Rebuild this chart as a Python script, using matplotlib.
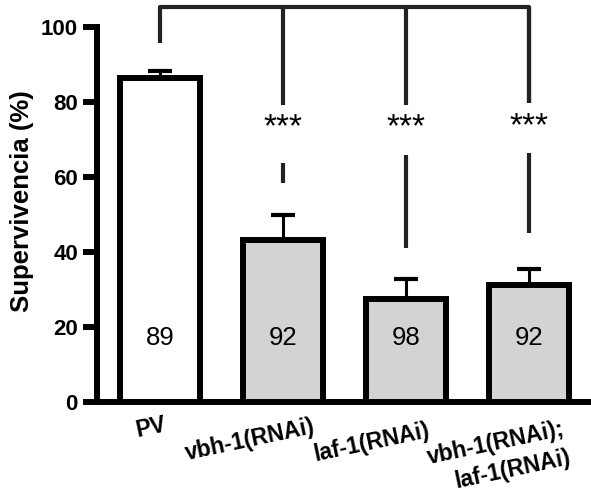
import matplotlib
matplotlib.use('Agg')
import matplotlib.pyplot as plt
import numpy as np

plt.rcParams['font.family'] = ['Liberation Sans', 'DejaVu Sans']

# data
groups = ['PV', 'vbh-1(RNAi)', 'laf-1(RNAi)', 'vbh-1(RNAi);\nlaf-1(RNAi)']
survival = [86.3, 43.2, 27.5, 31.3]
sem = [1.8, 6.6, 5.3, 4.1]
n_worms = ['89', '92', '98', '92']
fills = ['white', '#d3d3d3', '#d3d3d3', '#d3d3d3']

# significance bracket (all vs PV)
bracket_top = 105.2
pv_drop = 95.6
upper_end = [79.1, 79.1, 79.6]
lower_start = [63.6, 65.8, 66.4]
lower_end = [58.3, 41.0, 45.0]
star_y = [73.0, 73.0, 73.2]
stars = ['***', '***', '***']

fig = plt.figure(figsize=(5.91, 4.97), dpi=100)
ax = fig.add_axes([0.1636, 0.1911, 0.8364, 0.8089])

x = np.arange(len(groups))
ax.bar(x, survival, width=0.65, color=fills, edgecolor='black', linewidth=4.3, zorder=3)
ax.errorbar(x, survival, yerr=[np.zeros(len(sem)), sem], fmt='none', ecolor='black',
            elinewidth=2.2, capsize=8.5, capthick=3, zorder=2)

for xi, n in zip(x, n_worms):
    ax.text(xi, 17, n, ha='center', va='center', fontsize=18.5, zorder=4)

# bracket
bc = '#222222'
ax.plot([x[0], x[0], x[-1], x[-1]], [pv_drop, bracket_top, bracket_top, upper_end[-1]],
        color=bc, lw=3, solid_capstyle='butt', clip_on=False)
for i in range(1, len(groups)):
    ax.plot([x[i], x[i]], [bracket_top, upper_end[i - 1]], color=bc, lw=3, solid_capstyle='butt', clip_on=False)
    ax.plot([x[i], x[i]], [lower_start[i - 1], lower_end[i - 1]], color=bc, lw=3, solid_capstyle='butt')
    ax.text(x[i], star_y[i - 1], stars[i - 1], ha='center', va='center', fontsize=24)

ax.set_xlim(-0.515, 3.504)
ax.set_ylim(0, 107.1)
ax.spines['top'].set_visible(False)
ax.spines['right'].set_visible(False)
ax.spines['left'].set_bounds(0, 100)
ax.spines['left'].set_linewidth(4.3)
ax.spines['bottom'].set_linewidth(4.3)
ax.set_yticks([0, 20, 40, 60, 80, 100])
ax.tick_params(axis='y', length=10, width=4.3, pad=3.5, labelsize=16)
for lab in ax.get_yticklabels():
    lab.set_fontweight('bold')
ax.set_xticks([])
ax.set_ylabel('Supervivencia (%)', fontsize=18.5, fontweight='bold')
ax.yaxis.set_label_coords(-0.126, 0.5)

# rotated group labels (offsets in points from bar foot)
offsets = [(-6.5, -18), (-24, -27.5), (-25, -29.5), (-22, -40)]
for xi, g, (dx, dy) in zip(x, groups, offsets):
    ax.annotate(g, xy=(xi, 0), xytext=(dx, dy), textcoords='offset points',
                ha='center', va='center', rotation=12, fontsize=16.5, fontweight='bold',
                multialignment='right', linespacing=1.35, annotation_clip=False)

fig.savefig('out.png', dpi=100)
